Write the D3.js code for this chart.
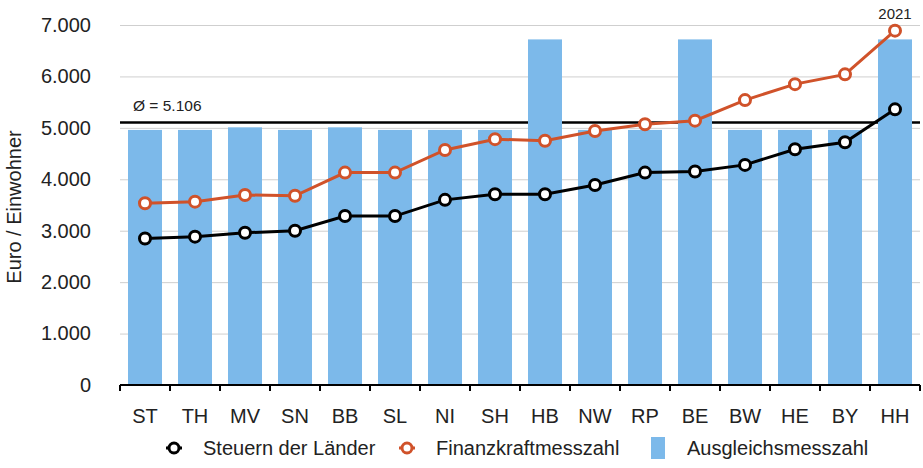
<!DOCTYPE html>
<html>
<head>
<meta charset="utf-8">
<script src="https://cdn.jsdelivr.net/npm/d3@7"></script>
<style>
  body { margin: 0; background: #fff; }
  svg { font-family: "Liberation Sans", Arial, sans-serif; }
</style>
</head>
<body>
<svg id="chart" width="923" height="468"></svg>
<script>
const laender = ["ST", "TH", "MV", "SN", "BB", "SL", "NI", "SH", "HB", "NW", "RP", "BE", "BW", "HE", "BY", "HH"];
const steuern = [2850, 2885, 2960, 3000, 3285, 3285, 3600, 3710, 3710, 3890, 4130, 4150, 4280, 4585, 4720, 5360];
const finanzkraft = [3535, 3565, 3695, 3680, 4130, 4130, 4570, 4780, 4750, 4940, 5070, 5140, 5540, 5850, 6040, 6890];
const ausgleich = [4960, 4960, 5010, 4960, 5010, 4960, 4960, 4960, 6720, 4960, 4960, 6720, 4960, 4960, 4960, 6720];
const yTicks = [0, 1000, 2000, 3000, 4000, 5000, 6000, 7000];
const mittel = 5106;
const jahr = "2021";

const colors = { steuern: "#000000", finanz: "#d0522a", bar: "#7cb9ea", grid: "#cfcfcf" };

const svg = d3.select("#chart");
const plot = { left: 120, right: 920, top: 25, bottom: 385 };

const de = d3.formatLocale({ decimal: ",", thousands: ".", grouping: [3], currency: ["", " €"] });
const fmt = de.format(",d");

const x = d3.scaleBand().domain(laender).range([plot.left, plot.right]).padding(0);
const y = d3.scaleLinear().domain([0, 7000]).range([plot.bottom, plot.top]);
const barW = x.bandwidth() * 0.68;

// grid lines
svg.append("g")
    .attr("transform", `translate(${plot.left},0)`)
    .call(d3.axisLeft(y).tickValues(yTicks.slice(1)).tickSize(-(plot.right - plot.left)).tickFormat(""))
    .call(g => g.select(".domain").remove())
    .call(g => g.selectAll("line").attr("stroke", colors.grid).attr("stroke-width", 1));

// mean line (behind the bars)
svg.append("line")
    .attr("x1", plot.left).attr("x2", plot.right)
    .attr("y1", y(mittel)).attr("y2", y(mittel))
    .attr("stroke", "#000").attr("stroke-width", 2.5);

svg.append("text")
    .attr("x", plot.left + 13).attr("y", y(mittel) - 11)
    .attr("font-size", 15.5).attr("fill", "#222")
    .text("Ø = " + fmt(mittel));

// bars
svg.append("g").selectAll("rect")
  .data(ausgleich)
  .join("rect")
    .attr("x", (d, i) => x(laender[i]) + (x.bandwidth() - barW) / 2)
    .attr("width", barW)
    .attr("y", d => y(d))
    .attr("height", d => y(0) - y(d))
    .attr("fill", colors.bar);

// y tick labels
svg.append("g")
    .attr("transform", "translate(91,0)")
    .call(d3.axisLeft(y).tickValues(yTicks).tickSize(0).tickPadding(0).tickFormat(fmt))
    .call(g => g.select(".domain").remove())
    .call(g => g.selectAll("text").attr("font-size", 20).attr("fill", "#222")
        .attr("font-family", "Liberation Sans, Arial, sans-serif"));

// x axis
const xAxis = svg.append("g").attr("transform", `translate(0,${plot.bottom})`);
xAxis.append("line")
    .attr("x1", plot.left).attr("x2", plot.right)
    .attr("stroke", "#000").attr("stroke-width", 2);
xAxis.selectAll("line.tick")
  .data(laender.concat([null]))
  .join("line")
    .attr("class", "tick")
    .attr("x1", d => d ? x(d) : plot.right).attr("x2", d => d ? x(d) : plot.right)
    .attr("y1", 0).attr("y2", 6)
    .attr("stroke", "#000").attr("stroke-width", 2);
xAxis.selectAll("text")
  .data(laender)
  .join("text")
    .attr("x", d => x(d) + x.bandwidth() / 2)
    .attr("y", 38)
    .attr("text-anchor", "middle")
    .attr("font-size", 20).attr("fill", "#222")
    .text(d => d);

// lines with markers
function drawSeries(values, color) {
  const line = d3.line()
      .x((d, i) => x(laender[i]) + x.bandwidth() / 2)
      .y(d => y(d));
  svg.append("path")
      .datum(values)
      .attr("d", line)
      .attr("fill", "none")
      .attr("stroke", color)
      .attr("stroke-width", 3);
  svg.append("g").selectAll("circle")
    .data(values)
    .join("circle")
      .attr("cx", (d, i) => x(laender[i]) + x.bandwidth() / 2)
      .attr("cy", d => y(d))
      .attr("r", 5.5)
      .attr("fill", "#fff")
      .attr("stroke", color)
      .attr("stroke-width", 3);
}
drawSeries(finanzkraft, colors.finanz);
drawSeries(steuern, colors.steuern);

// year label
svg.append("text")
    .attr("x", x("HH") + x.bandwidth() / 2)
    .attr("y", y(finanzkraft[finanzkraft.length - 1]) - 12)
    .attr("text-anchor", "middle")
    .attr("font-size", 15).attr("fill", "#222")
    .text(jahr);

// y label
svg.append("text")
    .attr("transform", "translate(21,207) rotate(-90)")
    .attr("text-anchor", "middle")
    .attr("font-size", 20).attr("fill", "#222")
    .text("Euro / Einwohner");

// legend
const legend = svg.append("g").attr("transform", "translate(0,448)");
const items = [
  { label: "Steuern der Länder", color: colors.steuern, type: "line", x: 174 },
  { label: "Finanzkraftmesszahl", color: colors.finanz, type: "line", x: 407 },
  { label: "Ausgleichsmesszahl", color: colors.bar, type: "rect", x: 658 }
];
items.forEach(it => {
  if (it.type === "line") {
    legend.append("line")
        .attr("x1", it.x - 8).attr("x2", it.x + 8)
        .attr("stroke", it.color).attr("stroke-width", 3);
    legend.append("circle")
        .attr("cx", it.x).attr("r", 5)
        .attr("fill", "#fff").attr("stroke", it.color).attr("stroke-width", 3);
  } else {
    legend.append("rect")
        .attr("x", it.x - 7).attr("y", -11)
        .attr("width", 14).attr("height", 22)
        .attr("fill", it.color);
  }
  legend.append("text")
      .attr("x", it.x + 29).attr("y", 7)
      .attr("font-size", 20).attr("fill", "#222")
      .text(it.label);
});
</script>
</body>
</html>
